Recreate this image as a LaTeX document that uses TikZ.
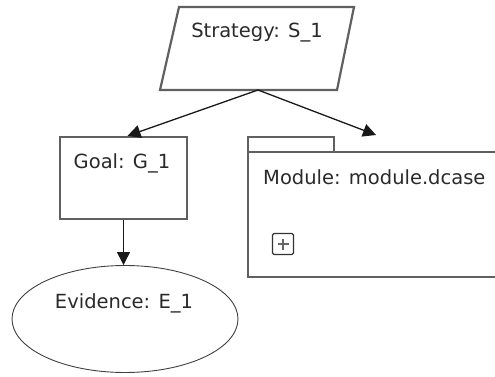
\documentclass[tikz,border=0pt]{standalone}
\usepackage{fontspec}
\setmainfont{DejaVu Sans}
\usetikzlibrary{arrows.meta,shapes.geometric}
\definecolor{edgegray}{HTML}{606060}
\definecolor{txtgray}{HTML}{2A2A2A}
\tikzset{
  shapeline/.style={draw=edgegray,line width=2.2pt},
  lbl/.style={font=\fontsize{19.5}{22}\selectfont,text=txtgray,inner sep=0pt},
  conn/.style={-{Triangle[length=13pt,width=13pt]},line width=1.3pt,black!90},
}
\begin{document}
\begin{tikzpicture}[x=1pt,y=-1pt]
\useasboundingbox (0,0) rectangle (495,377);
% strategy parallelogram
\draw[shapeline] (179,7) -- (354,7) -- (337,90) -- (160,90) -- cycle;
\coordinate (sbot) at (258,90);
\node[lbl] (stext) at (257,33) {Strategy: S\_1};
% goal
\node[shapeline,rectangle,minimum width=127pt,minimum height=82pt,inner sep=0pt] (goal) at (123.5,178) {};
\node[lbl] (gtext) at (122,163) {Goal: G\_1};
% evidence
\node[draw=black!75,line width=0.9pt,ellipse,minimum width=226pt,minimum height=107pt,inner sep=0pt] (ev) at (125,319) {};
\node[lbl] (etext) at (124,303) {Evidence: E\_1};
% module
\draw[shapeline] (510,152) -- (248,152) -- (248,277) -- (510,277);
\draw[shapeline] (248,152) -- (248,137) -- (334,137) -- (334,152);
\coordinate (mtop) at (376,135);
\node[lbl,anchor=west] (mtext) at (263,177) {Module: module.dcase};
\node[draw=black!80,line width=1.1pt,rounded corners=1.5pt,minimum size=21pt,inner sep=0pt] (plus) at (283,244) {};
\draw[black!60,line width=2.2pt] ([xshift=-5.5pt]plus.center) -- ([xshift=5.5pt]plus.center)
  ([yshift=-5.5pt]plus.center) -- ([yshift=5.5pt]plus.center);
% connectors
\draw[conn] (sbot) -- ([xshift=4pt]goal.north);
\draw[conn] (sbot) -- (mtop);
\draw[conn] (goal.south) -- (goal.south |- ev.north);
\end{tikzpicture}
\end{document}
